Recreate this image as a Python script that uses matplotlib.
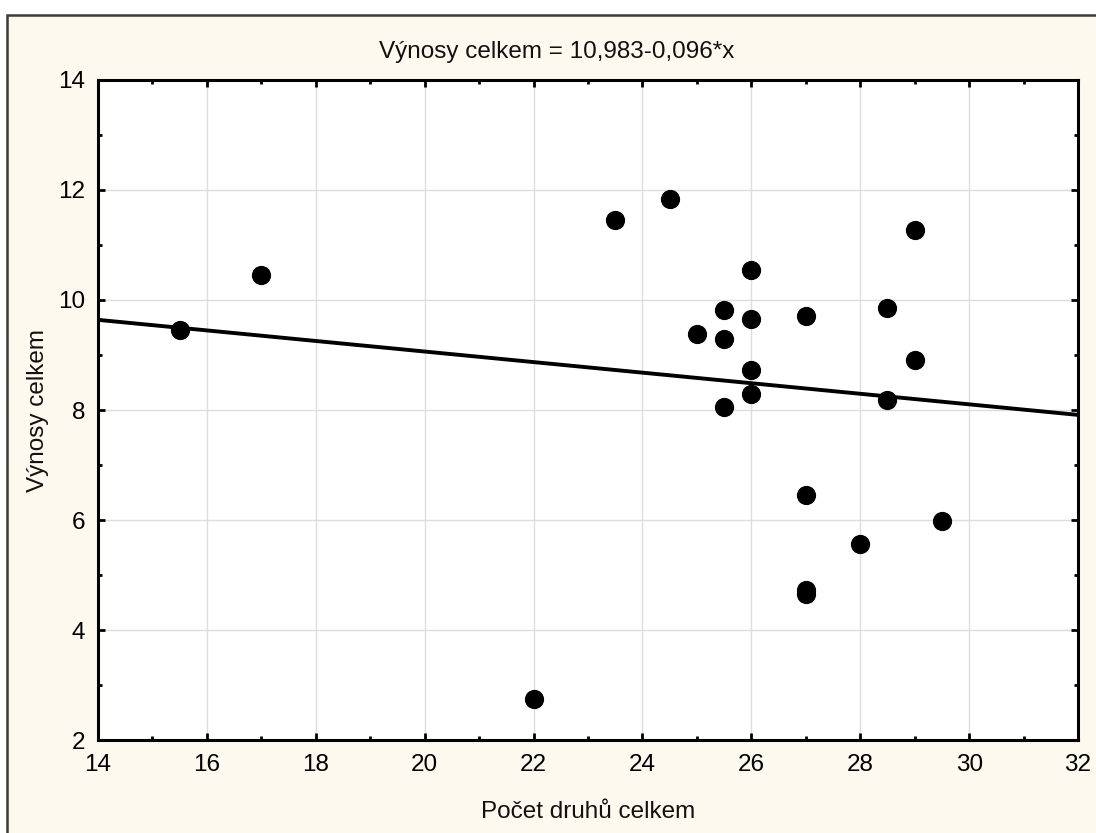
import matplotlib
matplotlib.use('Agg')
import matplotlib.pyplot as plt
from matplotlib.patches import Rectangle
from matplotlib.ticker import MultipleLocator
import numpy as np

plt.rcParams['font.family'] = ['Liberation Sans', 'DejaVu Sans']

# data
pocet_druhu = [15.5, 17, 22, 23.5, 24.5, 25, 25.5, 25.5, 25.5, 26, 26, 26, 26,
               27, 27, 27, 27, 28, 28.5, 28.5, 29, 29, 29.5]
vynosy = [9.45, 10.45, 2.75, 11.45, 11.84, 9.38, 9.82, 9.29, 8.05, 10.55, 9.65, 8.73, 8.29,
          9.71, 6.45, 4.73, 4.65, 5.56, 9.85, 8.18, 11.27, 8.91, 5.98]
intercept = 10.983
slope = -0.096
title = 'Výnosy celkem = 10,983-0,096*x'
xlabel = 'Počet druhů celkem'
ylabel = 'Výnosy celkem'

fig = plt.figure(figsize=(10.96, 8.33), dpi=100)
fig.patch.set_facecolor('white')
fig.patches.append(Rectangle((0.0064, -0.05), 1.1, 0.982 + 0.05, transform=fig.transFigure,
                             facecolor='#FEF9EE', edgecolor='#3a3a3a', linewidth=1.8, zorder=-10))

ax = fig.add_axes([0.0894, 0.1116, 0.9836 - 0.0894, 0.904 - 0.1116])
ax.set_zorder(5)
ax.set_facecolor('white')

xx = np.array([14, 32])
ax.plot(xx, intercept + slope * xx, color='black', lw=2.8, zorder=3)
ax.scatter(pocet_druhu, vynosy, s=165, color='black', zorder=4, clip_on=False)

ax.set_xlim(14, 32)
ax.set_ylim(2, 14)
ax.xaxis.set_major_locator(MultipleLocator(2))
ax.xaxis.set_minor_locator(MultipleLocator(1))
ax.yaxis.set_major_locator(MultipleLocator(2))
ax.yaxis.set_minor_locator(MultipleLocator(1))
ax.grid(True, which='major', color='#DDDDDD', lw=1, zorder=0)
ax.set_axisbelow(True)
ax.tick_params(which='both', direction='in', top=True, right=True, labelsize=17.5, colors='black')
ax.tick_params(axis='x', which='major', length=5, width=2, pad=10)
ax.tick_params(axis='y', which='major', length=5, width=2, pad=9)
ax.tick_params(which='minor', length=3, width=2)
for s in ax.spines.values():
    s.set_linewidth(2.2)
    s.set_color('black')

fig.text(0.508, 0.938, title, fontsize=17.5, ha='center', va='center', color='#111111')
ax.set_xlabel(xlabel, fontsize=17.5, labelpad=18, color='#111111')
ax.set_ylabel(ylabel, fontsize=17.5, labelpad=7, color='#111111')

fig.savefig('out.png', dpi=100)
